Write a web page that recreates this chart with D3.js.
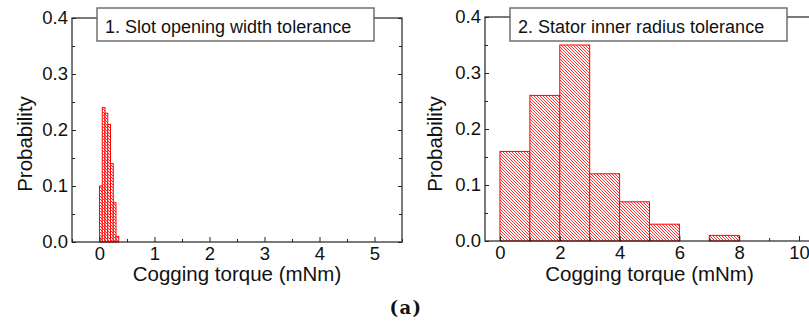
<!DOCTYPE html>
<html>
<head>
<meta charset="utf-8">
<script src="https://cdn.jsdelivr.net/npm/d3@7/dist/d3.min.js"></script>
<style>
  html, body { margin: 0; padding: 0; background: #fff; }
  svg { display: block; }
  text { font-family: "Liberation Sans", Arial, sans-serif; fill: #111; }
</style>
</head>
<body>
<svg id="chart" width="809" height="321"></svg>
<script>
// Histogram 1: slot opening width tolerance (bin width 0.05 mNm)
const slotBinStart = [0.00, 0.05, 0.10, 0.15, 0.20, 0.25, 0.30];
const slotProb     = [0.10, 0.24, 0.23, 0.21, 0.14, 0.07, 0.01];
const slotBinWidth = 0.05;

// Histogram 2: stator inner radius tolerance (bin width 1 mNm)
const radiusBinStart = [0, 1, 2, 3, 4, 5, 7];
const radiusProb     = [0.16, 0.26, 0.35, 0.12, 0.07, 0.03, 0.01];
const radiusBinWidth = 1;

// Axis ticks
const yTicks      = [0, 0.1, 0.2, 0.3, 0.4];
const yMinorTicks = [0.05, 0.15, 0.25, 0.35];
const xTicksSlot      = [0, 1, 2, 3, 4, 5];
const xMinorTicksSlot = [-0.5, 0.5, 1.5, 2.5, 3.5, 4.5, 5.5];
const xTicksRadius      = [0, 2, 4, 6, 8, 10];
const xMinorTicksRadius = [1, 3, 5, 7, 9];

const legendSlot   = "1. Slot opening width tolerance";
const legendRadius = "2. Stator inner radius tolerance";
const xTitle = "Cogging torque (mNm)";
const yTitle = "Probability";
const caption = "(a)";

const svg = d3.select("#chart");
svg.append("rect").attr("width", 809).attr("height", 321).attr("fill", "#fff");

// Diagonal red hatch used to fill the bars
const defs = svg.append("defs");
const pat = defs.append("pattern")
  .attr("id", "hatch")
  .attr("patternUnits", "userSpaceOnUse")
  .attr("width", 3).attr("height", 3);
pat.append("rect").attr("width", 3).attr("height", 3).attr("fill", "#fff");
pat.append("path")
  .attr("d", "M-1,-1 L4,4 M-1,2 L1,4 M2,-1 L4,1")
  .attr("stroke", "#ff1a1a").attr("stroke-width", 0.9);

function panel(opt) {
  const x = d3.scaleLinear().domain(opt.xDomain).range(opt.xRange);
  const y = d3.scaleLinear().domain([0, 0.4]).range(opt.yRange);
  const g = svg.append("g");
  const [x0, x1] = opt.xRange;
  const [yb, yt] = opt.yRange;

  // bars
  g.selectAll("rect.bar")
    .data(opt.starts.map((s, i) => ({ s, p: opt.probs[i] })))
    .join("rect")
    .attr("class", "bar")
    .attr("x", d => x(d.s))
    .attr("width", d => x(d.s + opt.binWidth) - x(d.s))
    .attr("y", d => y(d.p))
    .attr("height", d => y(0) - y(d.p))
    .attr("fill", "url(#hatch)")
    .attr("stroke", "#ff0000")
    .attr("stroke-width", 1);

  // axes with inward ticks
  g.append("g").attr("transform", `translate(${x0},0)`)
    .call(d3.axisLeft(y).tickValues(yTicks).tickFormat(d3.format(".1f"))
      .tickSize(-4).tickPadding(4));
  g.append("g").attr("transform", `translate(${x0},0)`)
    .call(d3.axisLeft(y).tickValues(yMinorTicks).tickFormat("").tickSize(-3));
  g.append("g").attr("transform", `translate(${x1},0)`)
    .call(d3.axisRight(y).tickValues(yTicks).tickFormat("").tickSize(-4));
  g.append("g").attr("transform", `translate(${x1},0)`)
    .call(d3.axisRight(y).tickValues(yMinorTicks).tickFormat("").tickSize(-3));
  g.append("g").attr("transform", `translate(0,${yb})`)
    .call(d3.axisBottom(x).tickValues(opt.xTicks).tickFormat(d3.format("d"))
      .tickSize(-5).tickPadding(5));
  g.append("g").attr("transform", `translate(0,${yb})`)
    .call(d3.axisBottom(x).tickValues(opt.xMinor).tickFormat("").tickSize(-3));

  g.selectAll(".domain").remove();
  g.selectAll(".tick line").attr("stroke", "#222").attr("stroke-width", 1);
  g.selectAll(".tick text")
    .style("font-family", '"Liberation Sans", Arial, sans-serif')
    .style("font-size", "18.5px").attr("fill", "#111");

  // frame
  g.append("rect")
    .attr("x", x0).attr("y", yt)
    .attr("width", x1 - x0).attr("height", yb - yt)
    .attr("fill", "none").attr("stroke", "#222").attr("stroke-width", 1.2);

  // titles
  g.append("text")
    .attr("x", (x0 + x1) / 2).attr("y", 281)
    .attr("text-anchor", "middle")
    .style("font-size", "20.5px")
    .text(xTitle);
  g.append("text")
    .attr("transform", `translate(${opt.yTitleX},144) rotate(-90)`)
    .attr("text-anchor", "middle")
    .style("font-size", "20.5px")
    .text(yTitle);

  // legend box
  const bx = x0 + 25;
  g.append("rect")
    .attr("x", bx).attr("y", 8)
    .attr("width", 277).attr("height", 33)
    .attr("fill", "#fff").attr("stroke", "#666").attr("stroke-width", 1.4);
  g.append("text")
    .attr("x", bx + 8).attr("y", 33)
    .style("font-size", "18px")
    .text(opt.legend);
}

panel({
  xDomain: [-0.5, 5.5], xRange: [72, 402], yRange: [242, 18],
  starts: slotBinStart, probs: slotProb, binWidth: slotBinWidth,
  xTicks: xTicksSlot, xMinor: xMinorTicksSlot,
  legend: legendSlot, yTitleX: 32
});

panel({
  xDomain: [-0.5, 10.5], xRange: [485, 814], yRange: [241, 17],
  starts: radiusBinStart, probs: radiusProb, binWidth: radiusBinWidth,
  xTicks: xTicksRadius, xMinor: xMinorTicksRadius,
  legend: legendRadius, yTitleX: 442
});

svg.append("text")
  .attr("x", 406).attr("y", 314)
  .attr("text-anchor", "middle")
  .style("font-family", '"DejaVu Serif", "Liberation Serif", serif')
  .style("font-weight", "bold")
  .style("font-size", "18px")
  .style("letter-spacing", "1.5px")
  .text(caption);
</script>
</body>
</html>
